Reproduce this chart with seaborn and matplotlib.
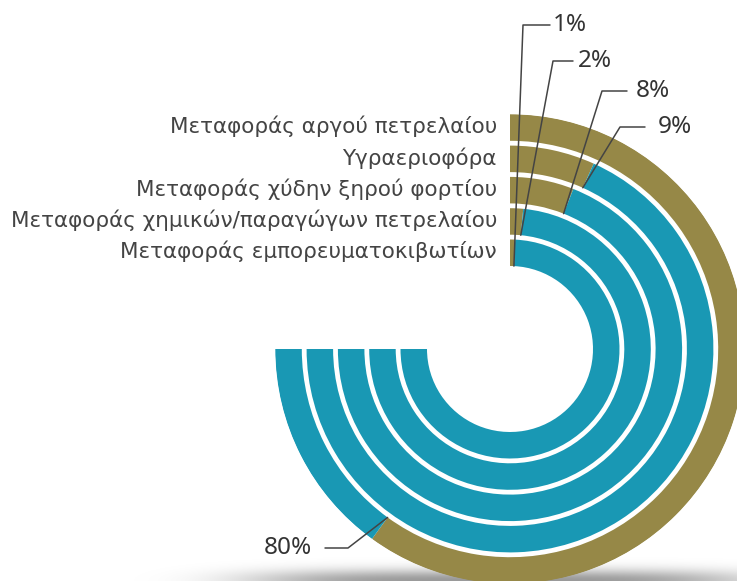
import numpy as np
import matplotlib
matplotlib.use("Agg")
import matplotlib.pyplot as plt
from matplotlib.lines import Line2D
import seaborn as sns

# Fleet categories, outermost ring first, and their shares (%)
categories = [
    "Μεταφοράς αργού πετρελαίου",
    "Υγραεριοφόρα",
    "Μεταφοράς χύδην ξηρού φορτίου",
    "Μεταφοράς χημικών/παραγώγων πετρελαίου",
    "Μεταφοράς εμπορευματοκιβωτίων",
]
shares = [80, 9, 8, 2, 1]
share_labels = ["80%", "9%", "8%", "2%", "1%"]

sns.set_theme(style="white")
plt.rcParams["font.family"] = ["Noto Sans", "DejaVu Sans"]
olive, teal = sns.color_palette(["#968847", "#1998B4"])

W, H = 737, 581
fig = plt.figure(figsize=(W / 100, H / 100), dpi=100, facecolor="white")

# soft drop shadow under the rings
sh_ax = fig.add_axes([0, 0, 1, 1], zorder=-1)
sh_ax.set_axis_off()
xx, yy = np.meshgrid(np.arange(W), np.arange(H))
alpha = 0.40 * np.exp(-((xx - 500) / 250.0) ** 4) * np.exp(-((yy) / 11.0) ** 2)
img = np.zeros((H, W, 4))
img[..., 3] = alpha
sh_ax.imshow(img, origin="lower", extent=(0, W, 0, H), aspect="auto")
sh_ax.set_xlim(0, W)
sh_ax.set_ylim(0, H)

# polar axes: centre of the rings in pixels, outer radius in pixels
cx, cy, R = 510, H - 349, 235
ax = fig.add_axes([(cx - R) / W, (cy - R) / H, 2 * R / W, 2 * R / H],
                  projection="polar")
ax.set_theta_zero_location("N")
ax.set_theta_direction(-1)
ax.set_ylim(0, R)
ax.set_axis_off()
ax.patch.set_alpha(0)

SPAN = 1.5 * np.pi          # each ring covers three quarters of a turn
r0, pitch, thick = 83.0, 31.3, 26.5
n = len(categories)
inner = [r0 + (n - 1 - i) * pitch for i in range(n)]

for cat, v, rin in zip(categories, shares, inner):
    a = v / 100 * SPAN
    ax.bar(0, thick, width=a, bottom=rin, align="edge", color=olive,
           linewidth=0)
    ax.bar(a, thick, width=SPAN - a, bottom=rin, align="edge", color=teal,
           linewidth=0)
    ax.annotate(cat, xy=(0, rin + thick / 2), xytext=(-13, 1),
                textcoords="offset pixels", ha="right", va="center",
                fontsize=15.5, color="#444444", family="DejaVu Sans",
                annotation_clip=False)

# leader lines: ring edge -> elbow -> label (pixel positions, from top)
elbows = {
    "80%": ((348, 548), (325, 548), (312, 548), "right"),
    "9%": ((620, 127), (645, 127), (658, 127), "left"),
    "8%": ((602, 91), (627, 91), (636, 91), "left"),
    "2%": ((553, 61), (573, 61), (578, 61), "left"),
    "1%": ((523, 25), (550, 25), (553, 25), "left"),
}
for lab, v, rin in zip(share_labels, shares, inner):
    a = v / 100 * SPAN
    px, py = ax.transData.transform((a, rin))
    (ex, ey), (hx, hy), (tx, ty), ha = elbows[lab]
    fig.add_artist(Line2D([px, ex, hx], [py, H - ey, H - hy],
                          transform=None, color="#444444", lw=1.1))
    fig.text(tx / W, 1 - ty / H, lab, ha=ha, va="center", fontsize=17.5,
             color="#333333")

fig.savefig("out.png", dpi=100, facecolor="white")
